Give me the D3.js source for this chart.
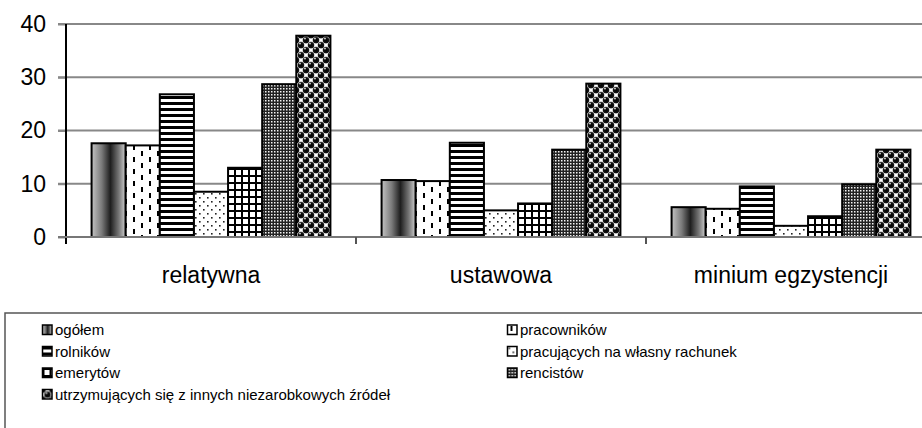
<!DOCTYPE html>
<html>
<head>
<meta charset="utf-8">
<script src="https://cdn.jsdelivr.net/npm/d3@7"></script>
<style>
  body { margin: 0; background: #fff; }
  svg { display: block; font-family: Arial, "Liberation Sans", sans-serif; }
</style>
</head>
<body>
<div id="chart"></div>
<script>
/** Kategorie (granice ubóstwa) */
var categories = ["relatywna", "ustawowa", "minium egzystencji"];
/** Grupy społeczno-ekonomiczne */
var series = [
  "ogółem",
  "pracowników",
  "rolników",
  "pracujących na własny rachunek",
  "emerytów",
  "rencistów",
  "utrzymujących się z innych niezarobkowych źródeł"
];
var ogolem = [17.6, 10.7, 5.6];
var pracownikow = [17.2, 10.5, 5.3];
var rolnikow = [26.8, 17.7, 9.5];
var pracujacych = [8.5, 5.0, 2.1];
var emerytow = [13.0, 6.3, 3.9];
var rencistow = [28.7, 16.4, 9.9];
var utrzymujacych = [37.8, 28.8, 16.4];
var values = [ogolem, pracownikow, rolnikow, pracujacych, emerytow, rencistow, utrzymujacych];
var yTicks = [0, 10, 20, 30, 40];

var W = 922, H = 428;
var svg = d3.select("#chart").append("svg").attr("width", W).attr("height", H);
var defs = svg.append("defs");

/** Wzory wypełnienia słupków */
var grad = defs.append("linearGradient").attr("id", "p0").attr("x1", 0).attr("x2", 1).attr("y1", 0).attr("y2", 0);
[[0, "#c4c4c4"], [0.3, "#7a7a7a"], [0.55, "#1e1e1e"], [0.8, "#777"], [1, "#d2d2d2"]].forEach(function (s) {
  grad.append("stop").attr("offset", s[0]).attr("stop-color", s[1]);
});

function pattern(id, w, h) {
  var p = defs.append("pattern").attr("id", id).attr("patternUnits", "userSpaceOnUse")
    .attr("width", w).attr("height", h);
  return p;
}
var p1 = pattern("p1", 16, 12);
p1.append("rect").attr("width", 16).attr("height", 12).attr("fill", "#fff");
p1.append("rect").attr("x", 3).attr("y", 1).attr("width", 2).attr("height", 5).attr("fill", "#000");
p1.append("rect").attr("x", 11).attr("y", 7).attr("width", 2).attr("height", 5).attr("fill", "#000");

var p2 = pattern("p2", 6, 6);
p2.append("rect").attr("width", 6).attr("height", 6).attr("fill", "#fff");
p2.append("rect").attr("width", 6).attr("height", 3).attr("fill", "#000");

var p3 = pattern("p3", 8, 8);
p3.append("rect").attr("width", 8).attr("height", 8).attr("fill", "#fff");
p3.append("rect").attr("x", 1).attr("y", 1).attr("width", 1.6).attr("height", 1.6).attr("fill", "#222");
p3.append("rect").attr("x", 5).attr("y", 5).attr("width", 1.6).attr("height", 1.6).attr("fill", "#222");

var p4 = pattern("p4", 7, 7);
p4.append("rect").attr("width", 7).attr("height", 7).attr("fill", "#fff");
p4.append("rect").attr("width", 7).attr("height", 2).attr("fill", "#000");
p4.append("rect").attr("width", 2).attr("height", 7).attr("fill", "#000");

var p5 = pattern("p5", 3, 3);
p5.append("rect").attr("width", 3).attr("height", 3).attr("fill", "#222");
p5.append("rect").attr("x", 1).attr("y", 1).attr("width", 1.5).attr("height", 1.5).attr("fill", "#f4f4f4");

var ball = defs.append("radialGradient").attr("id", "ball").attr("cx", 0.5).attr("cy", 0.55).attr("r", 0.6);
ball.append("stop").attr("offset", 0).attr("stop-color", "#000");
ball.append("stop").attr("offset", 0.65).attr("stop-color", "#111");
ball.append("stop").attr("offset", 1).attr("stop-color", "#aaa");
var p6 = pattern("p6", 10, 10);
p6.append("rect").attr("width", 10).attr("height", 10).attr("fill", "#fff");
[[0, 5], [5, 0], [10, 5], [5, 10]].forEach(function (c) {
  p6.append("circle").attr("cx", c[0]).attr("cy", c[1]).attr("r", 3.2)
    .attr("fill", "none").attr("stroke", "#bbb").attr("stroke-width", 0.7);
});
[[0, 0], [10, 0], [0, 10], [10, 10], [5, 5]].forEach(function (c) {
  p6.append("circle").attr("cx", c[0]).attr("cy", c[1]).attr("r", 3.4).attr("fill", "url(#ball)");
  p6.append("circle").attr("cx", c[0] - 1).attr("cy", c[1] - 1.4).attr("r", 0.9).attr("fill", "#e4e4e4");
});

var fills = ["url(#p0)", "url(#p1)", "url(#p2)", "url(#p3)", "url(#p4)", "url(#p5)", "url(#p6)"];

/** Skale */
var x0 = d3.scaleBand().domain(categories).range([66, 936]).paddingInner(0).paddingOuter(0);
var x1 = d3.scaleBand().domain(d3.range(series.length)).range([0, x0.bandwidth()])
  .paddingInner(0).paddingOuter(0.75);
var y = d3.scaleLinear().domain([0, 40]).range([237, 24]);

/** Linie siatki */
svg.append("g").selectAll("line").data(yTicks.slice(1)).join("line")
  .attr("x1", 58).attr("x2", W).attr("y1", y).attr("y2", y)
  .attr("stroke", "#888").attr("stroke-width", 2);

/** Oś Y */
var yAxis = svg.append("g").attr("transform", "translate(66,0)")
  .call(d3.axisLeft(y).tickValues(yTicks).tickSize(8).tickPadding(12));
yAxis.select(".domain").remove();
yAxis.selectAll(".tick line").attr("stroke", "#888").attr("stroke-width", 2);
yAxis.selectAll(".tick text").attr("font-size", 23).attr("fill", "#000").attr("font-family", null);
svg.append("line").attr("x1", 66).attr("x2", 66).attr("y1", 24).attr("y2", 244)
  .attr("stroke", "#000").attr("stroke-width", 2);

/** Słupki */
var group = svg.append("g").selectAll("g").data(categories).join("g")
  .attr("transform", function (d) { return "translate(" + x0(d) + ",0)"; });
group.selectAll("rect").data(function (d, ci) {
  return series.map(function (s, si) { return { si: si, v: values[si][ci] }; });
}).join("rect")
  .attr("x", function (d) { return x1(d.si); })
  .attr("y", function (d) { return y(d.v); })
  .attr("width", x1.bandwidth())
  .attr("height", function (d) { return y(0) - y(d.v); })
  .attr("fill", function (d) { return fills[d.si]; })
  .attr("stroke", "#000").attr("stroke-width", 2);

/** Oś X */
var xAxis = svg.append("g").attr("transform", "translate(0,237)")
  .call(d3.axisBottom(x0).tickSize(0).tickPadding(30));
xAxis.select(".domain").remove();
xAxis.selectAll(".tick text").attr("font-size", 23).attr("fill", "#000").attr("font-family", null);
svg.append("line").attr("x1", 58).attr("x2", W).attr("y1", 237).attr("y2", 237)
  .attr("stroke", "#777").attr("stroke-width", 2);
svg.append("g").selectAll("line").data(categories.slice(1)).join("line")
  .attr("x1", function (d) { return x0(d); }).attr("x2", function (d) { return x0(d); })
  .attr("y1", 237).attr("y2", 244).attr("stroke", "#555").attr("stroke-width", 2);

/** Legenda */
var legend = svg.append("g");
legend.append("rect").attr("x", 5).attr("y", 313).attr("width", 940).attr("height", 140)
  .attr("fill", "#fff").attr("stroke", "#555").attr("stroke-width", 1.5);
var li = legend.selectAll("g").data(series).join("g")
  .attr("transform", function (d, i) {
    return "translate(" + (i % 2 ? 507.5 : 42.5) + "," + (325 + Math.floor(i / 2) * 21.5) + ")";
  });
li.append("rect").attr("width", 9.5).attr("height", 9.5)
  .attr("fill", function (d, i) { return fills[i]; })
  .attr("stroke", "#000").attr("stroke-width", 1.5);
li.append("text").attr("x", 12.5).attr("y", 5).attr("dy", "0.35em")
  .attr("font-size", 15).text(function (d) { return d; });
</script>
</body>
</html>
